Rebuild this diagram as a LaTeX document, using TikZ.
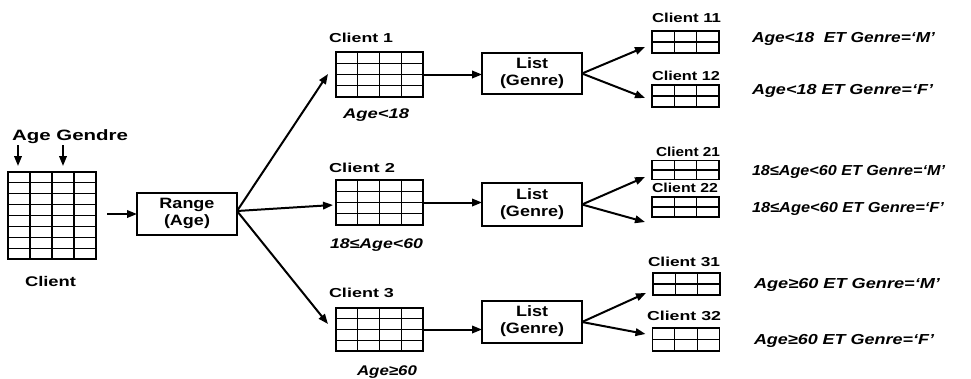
\documentclass[tikz,border=0pt]{standalone}
\usepackage{fontspec}
\setmainfont{Liberation Sans}
\usepackage{graphicx}
\usetikzlibrary{arrows.meta,calc}
\newcommand\fitx[2]{\resizebox{#1pt}{\height}{#2}}
\newcommand\gtab[7]{%
  \node[tbl, minimum width=#4pt, minimum height=#5pt] (#1) at (#2,#3) {};
  \pgfmathtruncatemacro\gnc{#6-1}%
  \pgfmathtruncatemacro\gnr{#7-1}%
  \foreach \k in {1,...,\gnc}{\draw[tline] ($(#1.north west)!{\k/#6}!(#1.north east)$) -- ($(#1.south west)!{\k/#6}!(#1.south east)$);}
  \foreach \k in {1,...,\gnr}{\draw[tline] ($(#1.north west)!{\k/#7}!(#1.south west)$) -- ($(#1.north east)!{\k/#7}!(#1.south east)$);}
}
\tikzset{
  tbl/.style={draw, line width=1.3pt, inner sep=0pt, outer sep=0pt},
  tline/.style={line width=1.2pt},
  box/.style={draw, line width=1.5pt, inner sep=0pt, outer sep=0pt, minimum width=100pt,
    font=\fontsize{15}{17}\selectfont\bfseries, align=center},
  arr/.style={line width=2pt, -{Triangle[length=10pt,width=7.5pt]}},
  txt/.style={inner sep=0pt, outer sep=0pt},
  clab/.style={txt, anchor=base west, font=\fontsize{13}{13}\selectfont\bfseries},
  ulab/.style={txt, anchor=base west, font=\fontsize{14}{14}\selectfont\bfseries\itshape},
  rlab/.style={txt, anchor=base west, font=\fontsize{14.5}{14.5}\selectfont\bfseries\itshape},
}
\begin{document}
\begin{tikzpicture}[x=1pt,y=-1pt]
\useasboundingbox (0,0) rectangle (971,378);
% tables
\gtab{client}{52}{215.5}{88}{87}{4}{8}
\gtab{c1}{379.5}{74.5}{87}{45}{4}{4}
\gtab{c2}{379.5}{202.5}{87}{45}{4}{4}
\gtab{c3}{379.5}{329.5}{87}{43}{4}{4}
\gtab{c11}{685.5}{42}{67}{22}{3}{2}
\gtab{c12}{685.5}{96}{67}{22}{3}{2}
\gtab{c21}{685.5}{170}{67}{19}{3}{2}
\gtab{c22}{685.5}{207}{67}{20}{3}{2}
\gtab{c31}{686.5}{284}{67}{22}{3}{2}
\gtab{c32}{686}{339.5}{67}{23}{3}{2}
% boxes
\node[box, minimum height=42pt] (range) at (187,214) {\scalebox{1.2}[1]{\begin{tabular}{@{}c@{}}Range\\(Age)\end{tabular}}};
\node[box, minimum height=41pt] (l1) at (532,73.5) {\scalebox{1.2}[1]{\begin{tabular}{@{}c@{}}List\\(Genre)\end{tabular}}};
\node[box, minimum height=43pt] (l2) at (532,204.5) {\scalebox{1.2}[1]{\begin{tabular}{@{}c@{}}List\\(Genre)\end{tabular}}};
\node[box, minimum height=42pt] (l3) at (532,322) {\scalebox{1.2}[1]{\begin{tabular}{@{}c@{}}List\\(Genre)\end{tabular}}};
% labels
\node[txt, anchor=base west, font=\fontsize{15}{15}\selectfont\bfseries] (hdr) at (12,140.7) {\fitx{116}{Age Gendre}};
\node[txt, anchor=base west, font=\fontsize{14}{14}\selectfont\bfseries] (lclient) at (25,286.7) {\fitx{51}{Client}};
\node[clab] (lc1) at (329,42.7) {\fitx{64}{Client 1}};
\node[clab] (lc2) at (329,172.7) {\fitx{66}{Client 2}};
\node[clab] (lc3) at (329,297.3) {\fitx{65}{Client 3}};
\node[clab] (lc11) at (652,22.7) {\fitx{69}{Client 11}};
\node[clab] (lc12) at (652,80) {\fitx{68}{Client 12}};
\node[clab] (lc21) at (656,156) {\fitx{64}{Client 21}};
\node[clab] (lc22) at (652,192) {\fitx{66}{Client 22}};
\node[clab] (lc31) at (648,266.7) {\fitx{72}{Client 31}};
\node[clab] (lc32) at (647,320.7) {\fitx{74}{Client 32}};
\node[ulab] (u1) at (343,118.3) {\fitx{66}{Age<18}};
\node[ulab] (u2) at (330,248.3) {\fitx{93}{18≤Age<60}};
\node[ulab] (u3) at (357,375.5) {\fitx{60}{Age≥60}};
\node[rlab] (r11) at (752,42.5) {\fitx{183}{Age<18\ \ ET Genre=‘M’}};
\node[rlab] (r12) at (752,94.5) {\fitx{181}{Age<18 ET Genre=‘F’}};
\node[rlab] (r21) at (752,175.5) {\fitx{193}{18≤Age<60 ET Genre=‘M’}};
\node[rlab] (r22) at (752,212.5) {\fitx{192}{18≤Age<60 ET Genre=‘F’}};
\node[rlab] (r31) at (754,288) {\fitx{186}{Age≥60 ET Genre=‘M’}};
\node[rlab] (r32) at (754,344) {\fitx{180}{Age≥60 ET Genre=‘F’}};
% connectors
\draw[arr] ($(client.north west)+(10,-27)$) -- ($(client.north west)+(10,-6)$);
\draw[arr] ($(client.north west)+(55,-27)$) -- ($(client.north west)+(55,-6)$);
\draw[arr] ($(client.east)+(11,-1.5)$) -- (range.west);
\coordinate (rs) at ($(range.east)+(0,-3)$);
\draw[arr] (rs) -- ($(c1.west)+(-8,-0.5)$);
\draw[arr] (rs) -- ($(c2.west)+(-3,2.5)$);
\draw[arr] (rs) -- ($(c3.west)+(-8,-5.5)$);
\draw[arr] (c1.east) -- (c1.east -| l1.west);
\draw[arr] (c2.east) -- (c2.east -| l2.west);
\draw[arr] (c3.east) -- (c3.east -| l3.west);
\draw[arr] (l1.east) -- ($(c11.west)+(-7,5)$);
\draw[arr] (l1.east) -- ($(c12.west)+(-7,2)$);
\draw[arr] (l2.east) -- ($(c21.west)+(-7,7)$);
\draw[arr] (l2.east) -- ($(c22.west)+(-7,15)$);
\draw[arr] (l3.east) -- ($(c31.west)+(-7,9)$);
\draw[arr] (l3.east) -- ($(c32.west)+(-7,-5.5)$);
\end{tikzpicture}
\end{document}
